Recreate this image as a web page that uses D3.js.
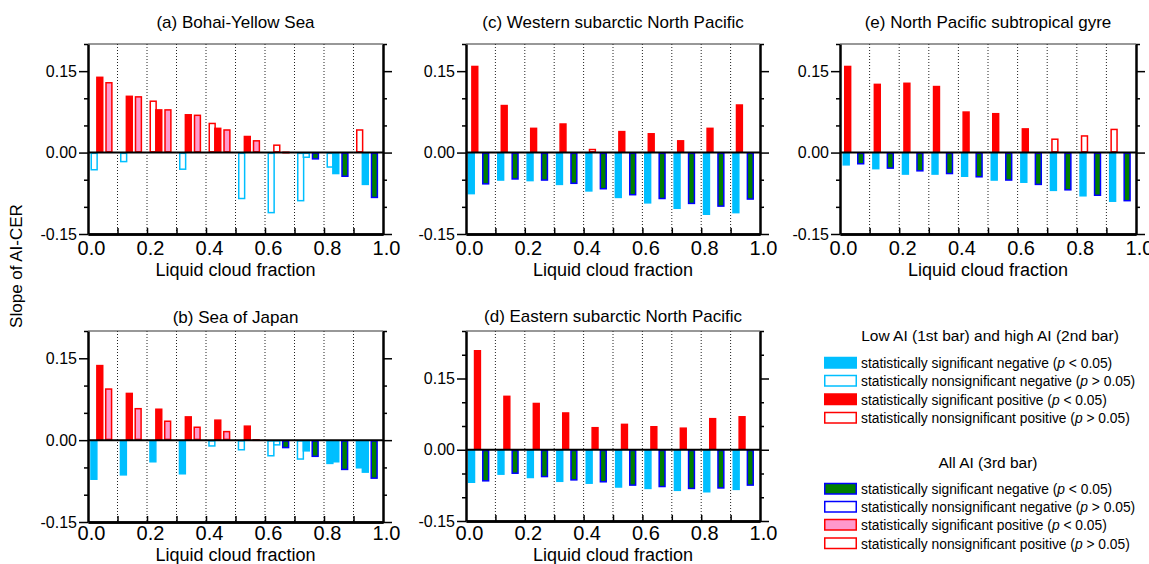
<!DOCTYPE html>
<html>
<head>
<meta charset="utf-8">
<script src="https://cdn.jsdelivr.net/npm/d3@7"></script>
<style>
  body { margin: 0; background: #fff; }
  svg { font-family: "Liberation Sans", Arial, sans-serif; }
</style>
</head>
<body>
<main></main>
<script>
// bin starts of liquid cloud fraction
const bins = [0.0, 0.1, 0.2, 0.3, 0.4, 0.5, 0.6, 0.7, 0.8, 0.9];
const xTicks = [0.0, 0.2, 0.4, 0.6, 0.8, 1.0];
const yMajor = [-0.15, 0.0, 0.15];

// (a) Bohai-Yellow Sea
const aLow = [-0.033, -0.018, 0.096, -0.032, 0.055, -0.086, -0.112, -0.090, -0.028, 0.043];
const aLowSig = [0, 0, 0, 0, 0, 0, 0, 0, 0, 0];
const aHigh = [0.140, 0.105, 0.080, 0.071, 0.046, 0.031, 0.015, -0.010, -0.040, -0.060];
const aHighSig = [1, 1, 1, 1, 1, 1, 0, 0, 1, 1];
const aAll = [0.130, 0.104, 0.080, 0.070, 0.043, 0.023, 0.002, -0.013, -0.045, -0.084];
const aAllSig = [1, 1, 1, 1, 1, 1, 1, 1, 1, 1];

// (b) Sea of Japan
const bLow = [-0.073, -0.065, -0.041, -0.063, -0.012, -0.019, -0.030, -0.036, -0.044, -0.052];
const bLowSig = [1, 1, 1, 1, 0, 0, 0, 0, 1, 1];
const bHigh = [0.138, 0.087, 0.058, 0.044, 0.038, 0.027, -0.010, -0.021, -0.041, -0.060];
const bHighSig = [1, 1, 1, 1, 1, 1, 0, 1, 1, 1];
const bAll = [0.095, 0.059, 0.036, 0.025, 0.017, 0.002, -0.015, -0.031, -0.055, -0.071];
const bAllSig = [1, 1, 1, 1, 1, 1, 1, 1, 1, 1];

// (c) Western subarctic North Pacific
const cLow = [-0.077, -0.052, -0.053, -0.060, -0.072, -0.084, -0.094, -0.104, -0.115, -0.112];
const cLowSig = [1, 1, 1, 1, 1, 1, 1, 1, 1, 1];
const cHigh = [0.160, 0.088, 0.046, 0.054, 0.007, 0.040, 0.036, 0.023, 0.046, 0.089];
const cHighSig = [1, 1, 1, 1, 0, 1, 1, 1, 1, 1];
const cAll = [-0.059, -0.050, -0.052, -0.058, -0.068, -0.079, -0.086, -0.095, -0.100, -0.087];
const cAllSig = [1, 1, 1, 1, 1, 1, 1, 1, 1, 1];

// (d) Eastern subarctic North Pacific
const dLow = [-0.070, -0.053, -0.060, -0.068, -0.072, -0.080, -0.083, -0.087, -0.090, -0.085];
const dLowSig = [1, 1, 1, 1, 1, 1, 1, 1, 1, 1];
const dHigh = [0.210, 0.114, 0.099, 0.079, 0.048, 0.055, 0.050, 0.047, 0.067, 0.071];
const dHighSig = [1, 1, 1, 1, 1, 1, 1, 1, 1, 1];
const dAll = [-0.067, -0.051, -0.058, -0.065, -0.069, -0.076, -0.079, -0.083, -0.082, -0.076];
const dAllSig = [1, 1, 1, 1, 1, 1, 1, 1, 1, 1];

// (e) North Pacific subtropical gyre
const eLow = [-0.024, -0.031, -0.041, -0.041, -0.045, -0.052, -0.056, -0.071, -0.081, -0.091];
const eLowSig = [1, 1, 1, 1, 1, 1, 1, 1, 1, 1];
const eHigh = [0.160, 0.127, 0.129, 0.123, 0.076, 0.073, 0.045, 0.026, 0.032, 0.044];
const eHighSig = [1, 1, 1, 1, 1, 1, 1, 0, 0, 0];
const eAll = [-0.022, -0.030, -0.035, -0.040, -0.046, -0.052, -0.060, -0.070, -0.080, -0.090];
const eAllSig = [1, 1, 1, 1, 1, 1, 1, 1, 1, 1];

const legendPair = [
    "statistically significant negative",
    "statistically nonsignificant negative",
    "statistically significant positive",
    "statistically nonsignificant positive"
];

window.onload = () => {
    const W = 1149, H = 564;
    const svg = d3.select("main").append("svg").attr("width", W).attr("height", H);

    const CYAN = "#00bfff", RED = "#ff0000", GREEN = "#007f00", BLUE = "#0000ff", PINK = "#ff99cc";

    // fill / stroke for a bar depending on group, sign and significance
    const style = (group, v, sig) => {
        if (group === "all") {
            if (v < 0) return sig ? [GREEN, BLUE] : ["#fff", BLUE];
            return sig ? [PINK, RED] : ["#fff", RED];
        }
        if (v < 0) return sig ? [CYAN, CYAN] : ["#fff", CYAN];
        return sig ? [RED, RED] : ["#fff", RED];
    };

    const panels = [
        { title: "(a) Bohai-Yellow Sea", left: 88, right: 383, top: 44, bottom: 234, yMax: 0.2, tY: 28, pad: 7, lY: 275.5,
          low: aLow, lowSig: aLowSig, high: aHigh, highSig: aHighSig, all: aAll, allSig: aAllSig, off: [0.021, 0.040, 0.071] },
        { title: "(b) Sea of Japan", left: 88, right: 383, top: 331, bottom: 522, yMax: 0.2, tY: 323, pad: 4, lY: 561,
          low: bLow, lowSig: bLowSig, high: bHigh, highSig: bHighSig, all: bAll, allSig: bAllSig, off: [0.020, 0.040, 0.070] },
        { title: "(c) Western subarctic North Pacific", left: 466, right: 760, top: 44, bottom: 234, yMax: 0.2, tY: 28, pad: 7, lY: 275.5,
          low: cLow, lowSig: cLowSig, high: cHigh, highSig: cHighSig, all: cAll, allSig: cAllSig, off: [0.018, 0.030, 0.067] },
        { title: "(d) Eastern subarctic North Pacific", left: 466, right: 760, top: 331, bottom: 521, yMax: 0.25, tY: 322, pad: 5, lY: 561,
          low: dLow, lowSig: dLowSig, high: dHigh, highSig: dHighSig, all: dAll, allSig: dAllSig, off: [0.019, 0.039, 0.067] },
        { title: "(e) North Pacific subtropical gyre", left: 840, right: 1136, top: 44, bottom: 234, yMax: 0.2, tY: 28, pad: 7, lY: 275.5,
          low: eLow, lowSig: eLowSig, high: eHigh, highSig: eHighSig, all: eAll, allSig: eAllSig, off: [0.021, 0.026, 0.070] }
    ];

    panels.forEach(p => {
        const x = d3.scaleLinear().domain([0, 1]).range([p.left, p.right]);
        const y = d3.scaleLinear().domain([-0.15, p.yMax]).range([p.bottom, p.top]);
        const g = svg.append("g");
        const minor = d3.range(-0.1, p.yMax + 0.001, 0.05).filter(v => Math.abs(v) > 1e-6 && Math.abs(Math.abs(v) - 0.15) > 1e-6);

        // dotted bin separators
        g.append("g").selectAll("line").data(bins.slice(1)).join("line")
            .attr("x1", d => x(d)).attr("x2", d => x(d))
            .attr("y1", p.top).attr("y2", p.bottom)
            .attr("stroke", "#222").attr("stroke-width", 1).attr("stroke-dasharray", "1,2");

        // top border
        g.append("line").attr("x1", p.left).attr("x2", p.right).attr("y1", p.top).attr("y2", p.top)
            .attr("stroke", "#333").attr("stroke-width", 1.2);

        // bars: low AI, high AI, all AI
        const bw = x(0.025) - x(0);
        const series = [
            ["pair", p.low, p.lowSig, p.off[0]],
            ["pair", p.high, p.highSig, p.off[1]],
            ["all", p.all, p.allSig, p.off[2]]
        ];
        series.forEach(([grp, vals, sig, off]) => {
            g.append("g").selectAll("rect").data(vals.map((v, i) => ({ v, s: sig[i], b: bins[i] }))).join("rect")
                .attr("x", d => x(d.b + off) - bw / 2 + 0.75)
                .attr("width", bw - 1.5)
                .attr("y", d => Math.min(y(d.v), y(0)) + 0.75)
                .attr("height", d => Math.max(0.5, Math.abs(y(d.v) - y(0)) - 1.5))
                .attr("fill", d => style(grp, d.v, d.s)[0])
                .attr("stroke", d => style(grp, d.v, d.s)[1])
                .attr("stroke-width", 1.5);
        });

        // zero line
        g.append("line").attr("x1", p.left).attr("x2", p.right).attr("y1", y(0)).attr("y2", y(0))
            .attr("stroke", "#000").attr("stroke-width", 2);

        // left axis
        g.append("g").attr("transform", `translate(${p.left},0)`)
            .call(d3.axisLeft(y).tickValues(yMajor).tickSize(9).tickSizeOuter(0).tickPadding(2).tickFormat(d => d.toFixed(2)))
            .call(a => a.selectAll("text").attr("font-size", 16));
        g.append("g").attr("transform", `translate(${p.left},0)`)
            .call(d3.axisLeft(y).tickValues(minor).tickSize(4).tickSizeOuter(0).tickFormat(""))
            .call(a => a.select(".domain").remove());
        // right axis
        g.append("g").attr("transform", `translate(${p.right},0)`)
            .call(d3.axisRight(y).tickValues(yMajor).tickSize(9).tickSizeOuter(0).tickFormat(""));
        g.append("g").attr("transform", `translate(${p.right},0)`)
            .call(d3.axisRight(y).tickValues(minor).tickSize(4).tickSizeOuter(0).tickFormat(""))
            .call(a => a.select(".domain").remove());
        // bottom axis
        g.append("g").attr("transform", `translate(0,${p.bottom})`)
            .call(d3.axisBottom(x).tickValues(bins.slice(1)).tickSize(-6).tickSizeOuter(0).tickFormat(""));
        g.append("g").attr("transform", `translate(0,${p.bottom})`)
            .call(d3.axisBottom(x).tickValues(xTicks).tickSize(0).tickPadding(p.pad).tickFormat(d => d.toFixed(1)))
            .call(a => a.selectAll("text").attr("dx", 3).attr("font-size", 20));

        g.selectAll(".domain").attr("stroke-width", 2.5);
        g.selectAll(".tick line").attr("stroke-width", 1.5);
        g.selectAll(".tick text").attr("fill", "#000");

        // titles
        g.append("text").attr("x", (p.left + p.right) / 2).attr("y", p.tY)
            .attr("text-anchor", "middle").attr("font-size", 17).text(p.title);
        g.append("text").attr("x", (p.left + p.right) / 2).attr("y", p.lY)
            .attr("text-anchor", "middle").attr("font-size", 18).text("Liquid cloud fraction");
    });

    // shared y label
    svg.append("text").attr("transform", "translate(22,266) rotate(-90)")
        .attr("text-anchor", "middle").attr("font-size", 17).text("Slope of AI-CER");

    // legends
    const legendBlock = (title, cx, ty, rowsY, grp) => {
        svg.append("text").attr("x", cx).attr("y", ty).attr("text-anchor", "middle")
            .attr("font-size", 15.5).text(title);
        const sample = [[-1, 1], [-1, 0], [1, 1], [1, 0]];
        const rows = svg.append("g").selectAll("g").data(legendPair).join("g")
            .attr("transform", (d, i) => `translate(824,${rowsY[i]})`);
        rows.append("rect").attr("x", 0.75).attr("y", -5.5).attr("width", 31.5).attr("height", 10.5)
            .attr("fill", (d, i) => style(grp, sample[i][0], sample[i][1])[0])
            .attr("stroke", (d, i) => style(grp, sample[i][0], sample[i][1])[1])
            .attr("stroke-width", 1.5);
        const t = rows.append("text").attr("x", 37).attr("y", 5).attr("font-size", 13.8);
        t.append("tspan").text(d => d + " (");
        t.append("tspan").attr("font-style", "italic").text("p");
        t.append("tspan").text((d, i) => (i % 2 === 0 ? " < 0.05)" : " > 0.05)"));
    };
    legendBlock("Low AI (1st bar) and high AI (2nd bar)", 990, 341, [363, 381, 399.5, 418], "pair");
    legendBlock("All AI (3rd bar)", 988, 468, [489, 507, 525, 543.5], "all");
};
</script>
</body>
</html>
